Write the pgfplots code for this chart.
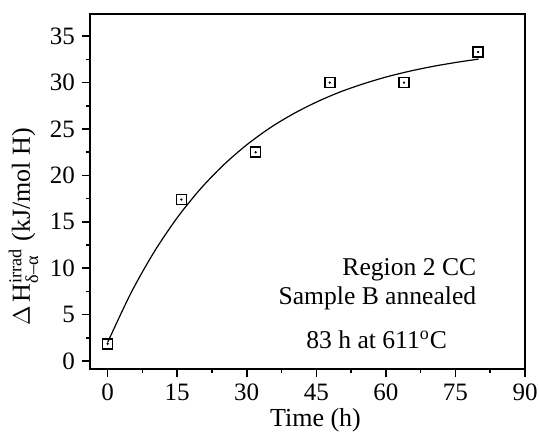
\documentclass[border=0pt]{standalone}
\usepackage{amsmath}
\usepackage{fontspec}
\setmainfont{Liberation Serif}
\usepackage{pgfplots}
\pgfplotsset{compat=1.18}
\usetikzlibrary{calc}

\begin{document}
\begin{tikzpicture}
\begin{axis}[
  scale only axis,
  width=217.5pt, height=177.5pt,
  xmin=-3.8, xmax=90,
  ymin=-0.86, ymax=37.4,
  xtick={0,15,...,90},
  ytick={0,5,...,35},
  minor x tick num=1,
  minor y tick num=1,
  tick pos=left,
  tick align=outside,
  major tick length=4pt,
  minor tick length=2pt,
  axis line style={line width=1pt},
  every tick/.style={line width=0.8pt, black},
  /pgf/number format/assume math mode=true,
  ticklabel style={font=\fontsize{12.5}{14}\selectfont},
  xlabel={Time (h)},
  ylabel={$\Delta$\,H$^{\text{irrad}}_{\text{δ–α}}$ (kJ/mol H)},
  label style={font=\fontsize{13}{15}\selectfont},
  xlabel style={yshift=3pt, xshift=4pt},
  ylabel style={at={(ticklabel cs:0.4)}, yshift=-1pt},
]
% fitted saturation curve
\addplot[black, line width=0.6pt, smooth] coordinates {
  (0,2.00) (5,7.30) (10,11.73) (15,15.44) (20,18.54) (25,21.13)
  (30,23.30) (35,25.12) (40,26.63) (45,27.90) (50,28.97) (55,29.85)
  (60,30.60) (65,31.22) (70,31.74) (75,32.17) (80,32.54)
};
% measured points
\addplot[only marks, mark=square, mark size=2.5pt, mark options={line width=0.8pt, black}] coordinates {
  (0,1.85) (15.9,17.4) (31.9,22.5) (47.9,30.0) (63.9,30.0) (79.9,33.3)
};
\addplot[only marks, mark=*, mark size=0.35pt, black] coordinates {
  (0,1.85) (15.9,17.4) (31.9,22.5) (47.9,30.0) (63.9,30.0) (79.9,33.3)
};
\node[anchor=east, font=\fontsize{12.8}{15}\selectfont] at (axis cs:81,9.8) {Region 2 CC};
\node[anchor=east, font=\fontsize{12.8}{15}\selectfont] at (axis cs:81,6.8) {Sample B annealed};
\node[font=\fontsize{12.8}{15}\selectfont] at (axis cs:58,2.3) {83 h at 611$^{\text{o}}$C};
\end{axis}
\pgfresetboundingbox
\path ($(current axis.south west)+(-45pt,-33.5pt)$) rectangle ($(current axis.north east)+(7pt,7pt)$);
\end{tikzpicture}
\end{document}
